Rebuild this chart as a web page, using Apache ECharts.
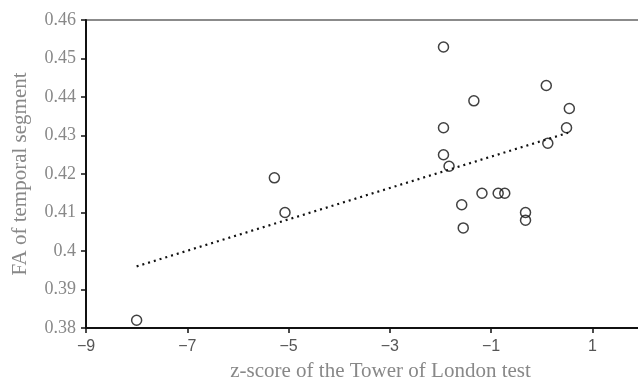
<!DOCTYPE html>
<html>
<head>
<meta charset="utf-8">
<script src="https://cdn.jsdelivr.net/npm/echarts@6/dist/echarts.min.js"></script>
<style>html,body{margin:0;padding:0;background:#fff}#c{width:638px;height:386px}</style>
</head>
<body>
<div id="c"></div>
<script>
const xValues = [-8.0, -5.28, -5.07, -1.94, -1.94, -1.94, -1.83, -1.34, -1.58, -1.55, -1.18, -0.86, -0.73, -0.32, -0.32, 0.09, 0.12, 0.49, 0.545];
const yValues = [0.382, 0.419, 0.410, 0.453, 0.432, 0.425, 0.422, 0.439, 0.412, 0.406, 0.415, 0.415, 0.415, 0.410, 0.408, 0.443, 0.428, 0.432, 0.437];
const trendX = [-8.0, 0.52];
const trendY = [0.396, 0.4307];
const xTicks = [-9, -7, -5, -3, -1, 1];

const points = xValues.map((x, i) => [x, yValues[i]]);
const trend = trendX.map((x, i) => [x, trendY[i]]);

const chart = echarts.init(document.getElementById('c'), null, {renderer: 'canvas'});
chart.setOption({
  animation: false,
  grid: {left: 86, top: 20, right: -5, bottom: 58, outerBoundsMode: 'none', containLabel: false,
    show: true, borderColor: '#666', borderWidth: 1.5, backgroundColor: 'transparent'},
  xAxis: {
    type: 'value', min: -9, max: 2, interval: 2,
    name: 'z-score of the Tower of London test',
    nameLocation: 'middle', nameGap: 33,
    nameTextStyle: {fontFamily: 'Liberation Serif', fontSize: 21, color: '#888', padding: [0, 0, 0, 32]},
    axisLine: {onZero: false, lineStyle: {color: '#111', width: 2}},
    axisTick: {show: true, length: 5, lineStyle: {color: '#111', width: 1.5},
      customValues: xTicks},
    axisLabel: {fontFamily: 'Liberation Sans', fontSize: 16, color: '#555', margin: 11,
      customValues: xTicks,
      formatter: v => (v < 0 ? '\u2212' + Math.abs(v) : String(v))},
    splitLine: {show: false}
  },
  yAxis: {
    type: 'value', min: 0.38, max: 0.46, interval: 0.01,
    name: 'FA of temporal segment',
    nameLocation: 'middle', nameGap: 55,
    nameTextStyle: {fontFamily: 'Liberation Serif', fontSize: 21, color: '#888'},
    axisLine: {show: true, onZero: false, lineStyle: {color: '#111', width: 2}},
    axisTick: {show: true, length: 5, lineStyle: {color: '#111', width: 1.5}},
    axisLabel: {fontFamily: 'Liberation Serif', fontSize: 18, color: '#888', margin: 10,
      formatter: v => String(parseFloat(v.toFixed(2)))},
    splitLine: {show: false}
  },
  series: [
    {
      type: 'line', data: trend, symbol: 'none',
      lineStyle: {color: '#111', width: 2.2, type: [2, 4]}, z: 2
    },
    {
      type: 'scatter', data: points, symbol: 'circle', symbolSize: 10,
      itemStyle: {color: 'transparent', borderColor: '#111', borderWidth: 1.5}, z: 3
    }
  ]
});
</script>
</body>
</html>
